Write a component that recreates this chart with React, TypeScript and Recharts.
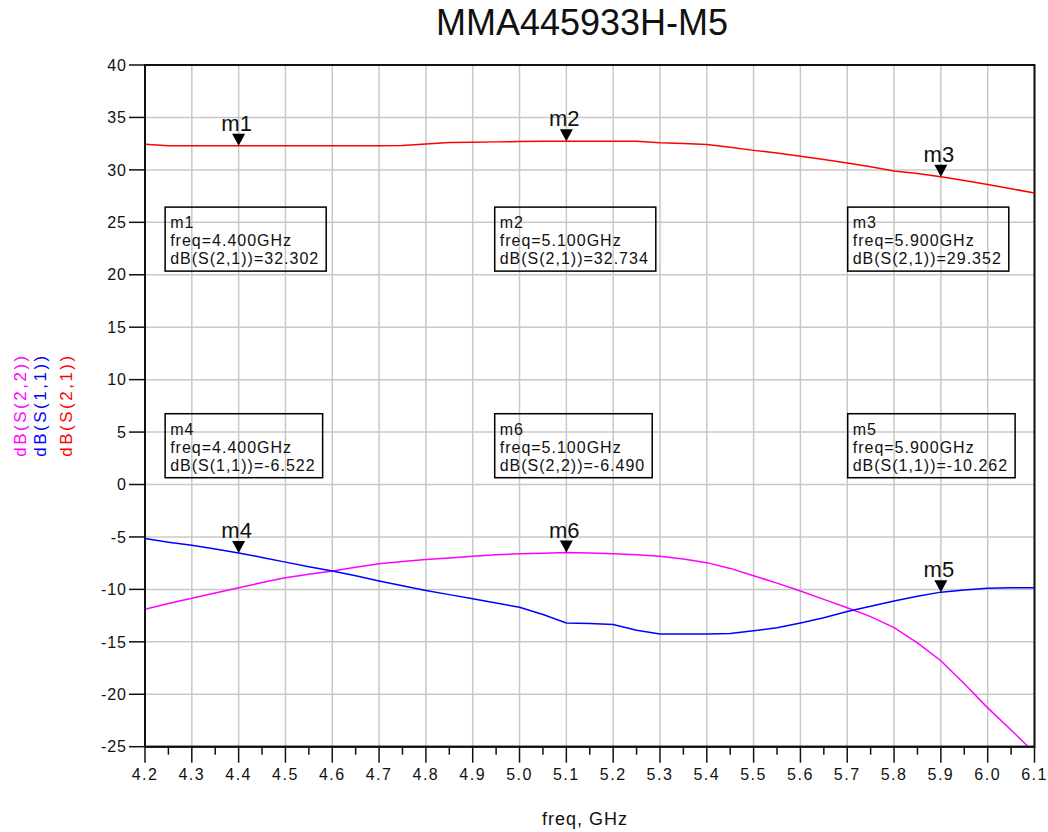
import React from 'react';
import { LineChart, Line, XAxis, YAxis, CartesianGrid, ReferenceDot, ReferenceArea } from 'recharts';

// ---------- data ----------
const FREQ = [
  4.2, 4.25, 4.3, 4.35, 4.4, 4.45, 4.5, 4.55, 4.6, 4.65, 4.7, 4.75, 4.8, 4.85, 4.9, 4.95,
  5.0, 5.05, 5.1, 5.15, 5.2, 5.25, 5.3, 5.35, 5.4, 5.45, 5.5, 5.55, 5.6, 5.65, 5.7, 5.75,
  5.8, 5.85, 5.9, 5.95, 6.0, 6.05, 6.1,
];
const S21 = [
  32.45, 32.3, 32.3, 32.3, 32.302, 32.3, 32.3, 32.3, 32.3, 32.3, 32.3, 32.32, 32.46, 32.62, 32.64, 32.67,
  32.7, 32.72, 32.734, 32.73, 32.73, 32.72, 32.58, 32.52, 32.42, 32.15, 31.86, 31.6, 31.3, 31.0, 30.65, 30.3,
  29.9, 29.65, 29.352, 28.98, 28.6, 28.2, 27.8,
];
const S11 = [
  -5.15, -5.5, -5.8, -6.15, -6.522, -6.95, -7.4, -7.85, -8.25, -8.7, -9.2, -9.65, -10.1, -10.5, -10.9, -11.3,
  -11.7, -12.4, -13.2, -13.25, -13.35, -13.9, -14.25, -14.25, -14.25, -14.2, -13.95, -13.65, -13.2, -12.7, -12.1, -11.6,
  -11.1, -10.65, -10.262, -10.05, -9.9, -9.85, -9.85,
];
const S22 = [
  -11.9, -11.35, -10.85, -10.35, -9.85, -9.35, -8.9, -8.55, -8.25, -7.9, -7.55, -7.35, -7.15, -7.0, -6.85, -6.7,
  -6.6, -6.55, -6.49, -6.52, -6.6, -6.7, -6.85, -7.1, -7.45, -8.0, -8.7, -9.4, -10.15, -10.95, -11.75, -12.6,
  -13.65, -15.1, -16.8, -19.0, -21.3, -23.4, -25.6,
];

const X_TICKS = [
  4.2, 4.25, 4.3, 4.35, 4.4, 4.45, 4.5, 4.55, 4.6, 4.65, 4.7, 4.75, 4.8, 4.85, 4.9, 4.95,
  5.0, 5.05, 5.1, 5.15, 5.2, 5.25, 5.3, 5.35, 5.4, 5.45, 5.5, 5.55, 5.6, 5.65, 5.7, 5.75,
  5.8, 5.85, 5.9, 5.95, 6.0, 6.05, 6.1,
];
const X_MAJOR = [4.2, 4.3, 4.4, 4.5, 4.6, 4.7, 4.8, 4.9, 5.0, 5.1, 5.2, 5.3, 5.4, 5.5, 5.6, 5.7, 5.8, 5.9, 6.0, 6.1];
const Y_TICKS = [-25, -20, -15, -10, -5, 0, 5, 10, 15, 20, 25, 30, 35, 40];

const MARKER_NAMES = ['m1', 'm2', 'm3', 'm4', 'm6', 'm5'];
const MARKER_FREQ = [4.4, 5.1, 5.9, 4.4, 5.1, 5.9];
const MARKER_VALUE = [32.302, 32.734, 29.352, -6.522, -6.49, -10.262];
const MARKER_TRACE = ['dB(S(2,1))', 'dB(S(2,1))', 'dB(S(2,1))', 'dB(S(1,1))', 'dB(S(2,2))', 'dB(S(1,1))'];
const BOX_FREQ = [4.243, 4.947, 5.701, 4.243, 4.947, 5.701];
const BOX_DB = [26.45, 26.45, 26.45, 6.75, 6.75, 6.75];

const TITLE = 'MMA445933H-M5';
const X_LABEL = 'freq, GHz';
const Y_LABELS = ['dB(S(2,2))', 'dB(S(1,1))', 'dB(S(2,1))'];

// ---------- styling ----------
const FONT = "'Liberation Sans', Arial, sans-serif";
const INK = '#111';
const COLORS = { s21: '#ff0000', s11: '#0000ff', s22: '#ff00ff' };
const Y_LABEL_COLORS = ['#ff00ff', '#0000ff', '#ff0000'];

const data = FREQ.map((f, i) => ({ f, s21: S21[i], s11: S11[i], s22: S22[i] }));

let ctx: CanvasRenderingContext2D | null = null;
function measure(s: string, size: number, spacing: number) {
  if (!ctx) ctx = document.createElement('canvas').getContext('2d');
  if (!ctx) return s.length * size * 0.55;
  ctx.font = `${size}px 'Liberation Sans', Arial, sans-serif`;
  return ctx.measureText(s).width + spacing * s.length;
}

const XTick = (props: any) => {
  const { x, y, payload } = props;
  const v = payload.value as number;
  const major = Math.abs(v * 10 - Math.round(v * 10)) < 1e-6;
  return (
    <g>
      <line x1={x} x2={x} y1={y} y2={y + (major ? 16 : 8)} stroke={INK} strokeWidth={1.5} />
      {major && (
        <text x={x} y={y + 33} textAnchor="middle" fontSize={16} letterSpacing={1.5} fill={INK} fontFamily={FONT}>
          {v.toFixed(1)}
        </text>
      )}
    </g>
  );
};

const makeMarker = (name: string) => (props: any) => {
  const { cx, cy } = props;
  return (
    <g>
      <polygon points={`${cx - 6.5},${cy - 12} ${cx + 6.5},${cy - 12} ${cx},${cy}`} fill="#000" />
      <text x={cx - 2} y={cy - 15} textAnchor="middle" fontSize={22} fill={INK} fontFamily={FONT}>
        {name}
      </text>
    </g>
  );
};

const makeBox = (lines: string[]) => (props: any) => {
  const { cx, cy } = props;
  const w = Math.max(...lines.map((t) => measure(t, 16, 1))) + 12;
  return (
    <g>
      <rect x={cx} y={cy} width={w} height={64} fill="none" stroke="#000" strokeWidth={1.5} />
      {lines.map((t, i) => (
        <text key={i} x={cx + 5} y={cy + 21 + i * 18} fontSize={16} letterSpacing={1} fill={INK} fontFamily={FONT}>
          {t}
        </text>
      ))}
    </g>
  );
};

export default function App() {
  return (
    <div style={{ position: 'absolute', left: 0, top: 0, width: 1048, height: 832, background: '#fff', fontFamily: FONT, overflow: 'hidden' }}>
      <LineChart width={1048} height={832} data={data} margin={{ top: 65, right: 13.5, bottom: 55.3, left: 85 }}>
        <CartesianGrid stroke="#c8c8c8" strokeWidth={1.5} verticalValues={X_MAJOR} horizontalValues={Y_TICKS} />
        <XAxis
          dataKey="f"
          type="number"
          domain={[4.2, 6.1]}
          ticks={X_TICKS}
          interval={0}
          allowDataOverflow
          height={30}
          tickSize={0}
          tickMargin={0}
          tickLine={false}
          axisLine={{ stroke: INK, strokeWidth: 2 }}
          tick={<XTick />}
        />
        <YAxis
          type="number"
          domain={[-25, 40]}
          ticks={Y_TICKS}
          interval={0}
          allowDataOverflow
          width={60}
          tickSize={16}
          tickMargin={2}
          tickLine={{ stroke: INK, strokeWidth: 1.5 }}
          axisLine={{ stroke: INK, strokeWidth: 2 }}
          tick={{ fill: INK, fontSize: 16, fontFamily: FONT, letterSpacing: 1 }}
        />
        <ReferenceArea x1={4.2} x2={6.1} y1={-25} y2={40} fill="none" fillOpacity={0} stroke={INK} strokeWidth={2} />
        <Line type="linear" dataKey="s22" stroke={COLORS.s22} strokeWidth={1.5} dot={false} isAnimationActive={false} />
        <Line type="linear" dataKey="s11" stroke={COLORS.s11} strokeWidth={1.5} dot={false} isAnimationActive={false} />
        <Line type="linear" dataKey="s21" stroke={COLORS.s21} strokeWidth={1.5} dot={false} isAnimationActive={false} />
        {MARKER_NAMES.map((n, i) => (
          <ReferenceDot key={'mk' + n} x={MARKER_FREQ[i]} y={MARKER_VALUE[i]} r={1} shape={makeMarker(n)} />
        ))}
        {MARKER_NAMES.map((n, i) => (
          <ReferenceDot
            key={'bx' + n}
            x={BOX_FREQ[i]}
            y={BOX_DB[i]}
            r={1}
            shape={makeBox([
              n,
              `freq=${MARKER_FREQ[i].toFixed(3)}GHz`,
              `${MARKER_TRACE[i]}=${MARKER_VALUE[i].toFixed(3)}`,
            ])}
          />
        ))}
      </LineChart>
      <svg width={1048} height={832} style={{ position: 'absolute', left: 0, top: 0, pointerEvents: 'none' }}>
        <text x={582} y={35} textAnchor="middle" fontSize={36} fill={INK} fontFamily={FONT}>
          {TITLE}
        </text>
        <text x={585} y={825} textAnchor="middle" fontSize={18} letterSpacing={1} fill={INK} fontFamily={FONT}>
          {X_LABEL}
        </text>
        {Y_LABELS.map((t, i) => {
          const x = [26, 46, 71.5][i];
          return (
            <text
              key={t + i}
              x={x}
              y={405}
              transform={`rotate(-90, ${x}, 405)`}
              textAnchor="middle"
              fontSize={17}
              letterSpacing={2.5}
              fill={Y_LABEL_COLORS[i]}
              fontFamily={FONT}
            >
              {t}
            </text>
          );
        })}
      </svg>
    </div>
  );
}
